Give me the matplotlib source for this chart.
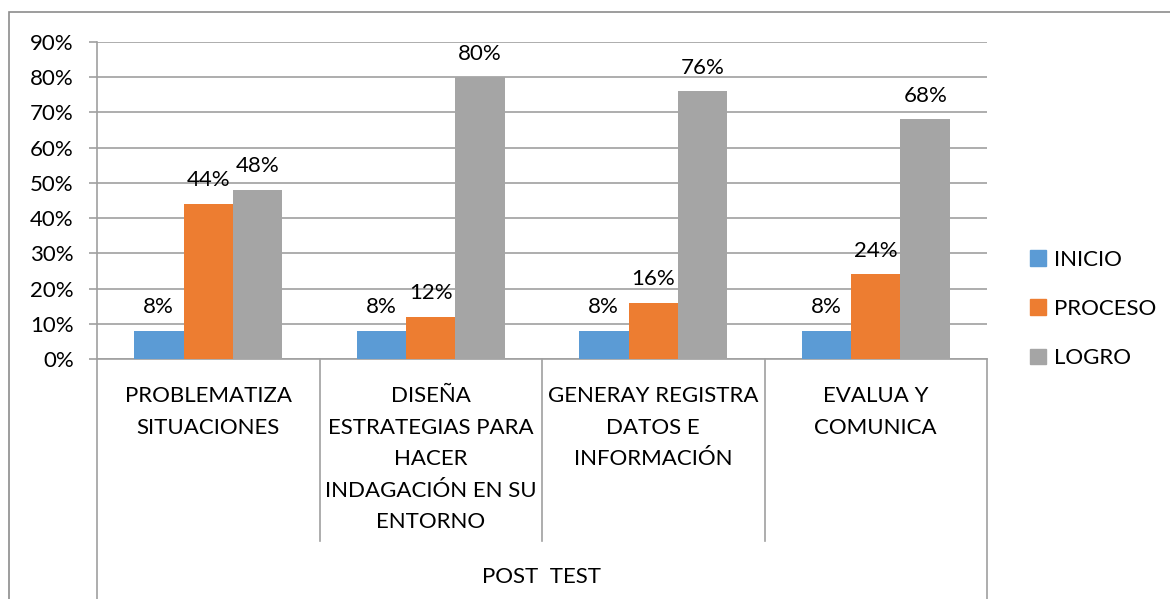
import matplotlib
matplotlib.use("Agg")
import matplotlib.pyplot as plt
from matplotlib.patches import Rectangle
from matplotlib.lines import Line2D
import numpy as np

plt.rcParams['font.family'] = ['Lato', 'DejaVu Sans']

categories = ["PROBLEMATIZA\nSITUACIONES",
              "DISEÑA\nESTRATEGIAS PARA\nHACER\nINDAGACIÓN EN SU\nENTORNO",
              "GENERAY REGISTRA\nDATOS E\nINFORMACIÓN",
              "EVALUA Y\nCOMUNICA"]
group_label = "POST  TEST"
series_names = ["INICIO", "PROCESO", "LOGRO"]
inicio = [8, 8, 8, 8]
proceso = [44, 12, 16, 24]
logro = [48, 80, 76, 68]
series = [inicio, proceso, logro]
colors = ["#5B9BD5", "#ED7D31", "#A5A5A5"]
yticks = [0, 10, 20, 30, 40, 50, 60, 70, 80, 90]

FS = 16
W, H = 1170, 599
fig = plt.figure(figsize=(W / 100, H / 100), dpi=100)

# outer chart border
fig.patches.append(Rectangle((9 / W, -0.1), 1.2, 1 - 12 / H + 0.1,
                             transform=fig.transFigure, fill=False,
                             edgecolor="#8C8C8C", linewidth=1.2))

x0, x1, ytop, ybot = 97, 987, 42, 359
ax = fig.add_axes([x0 / W, 1 - ybot / H, (x1 - x0) / W, (ybot - ytop) / H])
n = len(categories)
ax.set_xlim(0, n)
ax.set_ylim(0, 90)

bw = 1 / 4.5
xs = np.arange(n) + 0.5
for i, (vals, c, name) in enumerate(zip(series, colors, series_names)):
    pos = xs + (i - 1) * bw
    ax.bar(pos, vals, width=bw, color=c, label=name, zorder=3)
    for p, v in zip(pos, vals):
        ax.annotate(f"{v}%", (p, v), xytext=(0, 17), textcoords="offset points",
                    ha="center", va="center", fontsize=FS, color="black")

ax.set_yticks(yticks)
ax.set_yticklabels([f"{t}%" for t in yticks], fontsize=FS)
ax.yaxis.grid(True, color="#A0A0A0", linewidth=1.2, zorder=0)
ax.tick_params(axis="y", length=5.8, color="#A0A0A0", width=1.2, pad=11)
ax.set_xticks([])
for s in ["top", "right"]:
    ax.spines[s].set_visible(False)
ax.spines["left"].set_color("#A0A0A0")
ax.spines["bottom"].set_color("#A0A0A0")
ax.spines["left"].set_linewidth(1.2)
ax.spines["bottom"].set_linewidth(1.2)

trans = ax.get_xaxis_transform()
def yfrac(p):
    return (ybot - p) / (ybot - ytop)

# category separators
for k in range(1, n):
    ax.add_line(Line2D([k, k], [0, yfrac(541)], transform=trans, color="#A0A0A0",
                       linewidth=1.2, clip_on=False))
for k in [0, n]:
    ax.add_line(Line2D([k, k], [0, yfrac(605)], transform=trans, color="#A0A0A0",
                       linewidth=1.2, clip_on=False))

for k, cat in enumerate(categories):
    ax.text(k + 0.5, yfrac(386), cat, transform=trans, ha="center", va="top",
            fontsize=FS, linespacing=1.72)
ax.text(n / 2, yfrac(577), group_label, transform=trans, ha="center", va="center",
        fontsize=FS)

handles = [Rectangle((0, 0), 1, 1, color=c) for c in colors]
fig.legend(handles, series_names, loc="center left",
           bbox_to_anchor=(1010 / W, 1 - 309 / H), frameon=False, fontsize=FS,
           handlelength=0.7, handleheight=0.7, handletextpad=0.4,
           labelspacing=1.32)

fig.savefig("out.png", dpi=100)
